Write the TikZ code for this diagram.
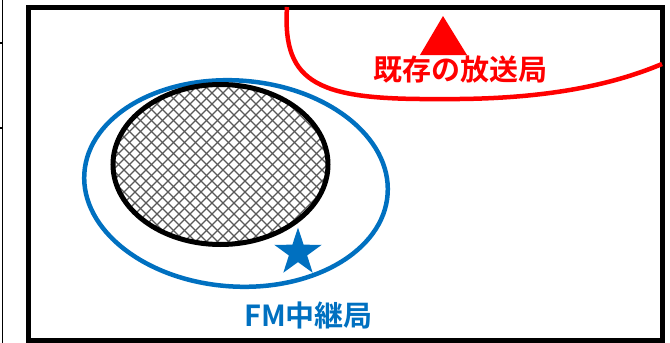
\documentclass[tikz,border=0pt]{standalone}
\usepackage{fontspec}
\newfontfamily\jpfont{Noto Sans CJK JP Bold}
\definecolor{fmblue}{HTML}{0070C0}
\definecolor{bred}{HTML}{FF0000}
\tikzset{
  frame/.style={draw=black, line width=5pt},
  redline/.style={draw=bred, line width=4.5pt},
  blueline/.style={draw=fmblue, line width=4.5pt},
  hatchline/.style={draw=black!65, line width=1.1pt},
  lbl/.style={font=\jpfont\fontsize{29}{32}\selectfont, inner sep=0pt},
}
\begin{document}
\begin{tikzpicture}[x=1pt, y=-1pt]
\useasboundingbox (0,0) rectangle (670,343);
% left edge marks
\draw[line width=1.5pt] (2.7,0) -- (2.7,343);
\draw[line width=1.2pt] (0,43) -- (2.7,43);
\draw[line width=1.2pt] (0,128) -- (2.7,128);
% frame
\draw[frame] (28,7.5) rectangle (662.5,340.5);
% red coverage curve
\coordinate (r0) at (287,7);
\coordinate (r1) at (440,99);
\coordinate (r2) at (662,64);
\draw[redline] (r0) .. controls (282,85) and (320,100) .. (r1)
                    .. controls (540,100) and (610,86) .. (r2);
% red triangle
\fill[bred] (443,16) -- (467,55) -- (420,55) -- cycle;
\node[lbl, text=bred] (exist) at (460,70) {既存の放送局};
% blue ellipse
\coordinate (bc) at (236,183.5);
\draw[blueline, rotate around={-4:(bc)}] (bc) ellipse [x radius=152, y radius=103];
% black hatched ellipse
\coordinate (kc) at (220.5,164.5);
\begin{scope}
  \clip (kc) ellipse [x radius=107.5, y radius=80];
  \foreach \i in {-20,...,25} {
    \draw[hatchline] ({100+11*\i},80) -- ({100+11*\i+180},260);
    \draw[hatchline] ({100+11*\i},260) -- ({100+11*\i+180},80);
  }
\end{scope}
\draw[frame] (kc) ellipse [x radius=107.5, y radius=80];
% star
\fill[fmblue] (298,252.5)
  ++(-90:25) -- ({298+9.6*cos(-54)},{252.5+9.6*sin(-54)})
  -- ({298+25*cos(-18)},{252.5+25*sin(-18)})
  -- ({298+9.6*cos(18)},{252.5+9.6*sin(18)})
  -- ({298+25*cos(54)},{252.5+25*sin(54)})
  -- ({298+9.6*cos(90)},{252.5+9.6*sin(90)})
  -- ({298+25*cos(126)},{252.5+25*sin(126)})
  -- ({298+9.6*cos(162)},{252.5+9.6*sin(162)})
  -- ({298+25*cos(198)},{252.5+25*sin(198)})
  -- ({298+9.6*cos(234)},{252.5+9.6*sin(234)})
  -- cycle;
\node[lbl, text=fmblue] (fm) at (308.5,315.5) {FM中継局};
\end{tikzpicture}
\end{document}
